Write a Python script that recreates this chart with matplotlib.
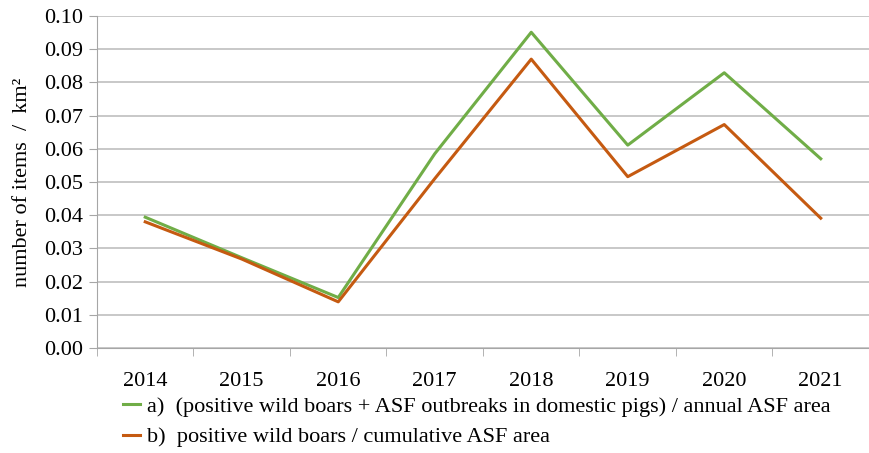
import numpy as np
import matplotlib.pyplot as plt

plt.rcParams['font.family'] = ['Liberation Serif', 'DejaVu Serif']

# Data
years = ["2014", "2015", "2016", "2017", "2018", "2019", "2020", "2021"]
annual_area = [0.0394, 0.0272, 0.0152, 0.0585, 0.0951, 0.0611, 0.0829, 0.0570]
cumulative_area = [0.0380, 0.0268, 0.0139, 0.0510, 0.0870, 0.0516, 0.0673, 0.0391]

label_a = "a)  (positive wild boars + ASF outbreaks in domestic pigs) / annual ASF area"
label_b = "b)  positive wild boars / cumulative ASF area"

fig = plt.figure(figsize=(8.69, 4.53), dpi=100)
ax = fig.add_axes([0.1116, 0.2318, 0.8884, 0.7329])

x = np.arange(len(years))
ax.plot(x, annual_area, color="#70AD47", lw=2.2, label=label_a)
ax.plot(x, cumulative_area, color="#C55A11", lw=2.2, label=label_b)

ax.set_xlim(-0.5, len(years) - 0.5)
ax.set_ylim(0, 0.10)
ax.set_yticks(np.arange(0, 0.101, 0.01))
ax.set_yticklabels([f"{v:.2f}" for v in np.arange(0, 0.101, 0.01)], fontsize=16)
ax.set_xticks(x)
ax.set_xticklabels(years, fontsize=16)
ax.set_xticks(np.arange(-0.5, len(years), 1), minor=True)
ax.tick_params(axis="x", which="major", length=0, pad=17)
ax.tick_params(axis="x", which="minor", length=6, color="#A6A6A6")
ax.tick_params(axis="y", length=6, color="#A6A6A6", pad=4)

ax.grid(axis="y", color="#BFBFBF", lw=1.2)
ax.set_axisbelow(True)
for s in ["top", "right"]:
    ax.spines[s].set_visible(False)
for s in ["left", "bottom"]:
    ax.spines[s].set_color("#A6A6A6")

ax.set_ylabel("number of items  /  km²", fontsize=16, labelpad=9)

fig.legend(loc="upper left", bbox_to_anchor=(0.141, 0.125), frameon=False,
           fontsize=16, handlelength=0.8, handletextpad=0.3, labelspacing=0.45,
           borderaxespad=0, borderpad=0)

fig.savefig("out.png", dpi=100)
